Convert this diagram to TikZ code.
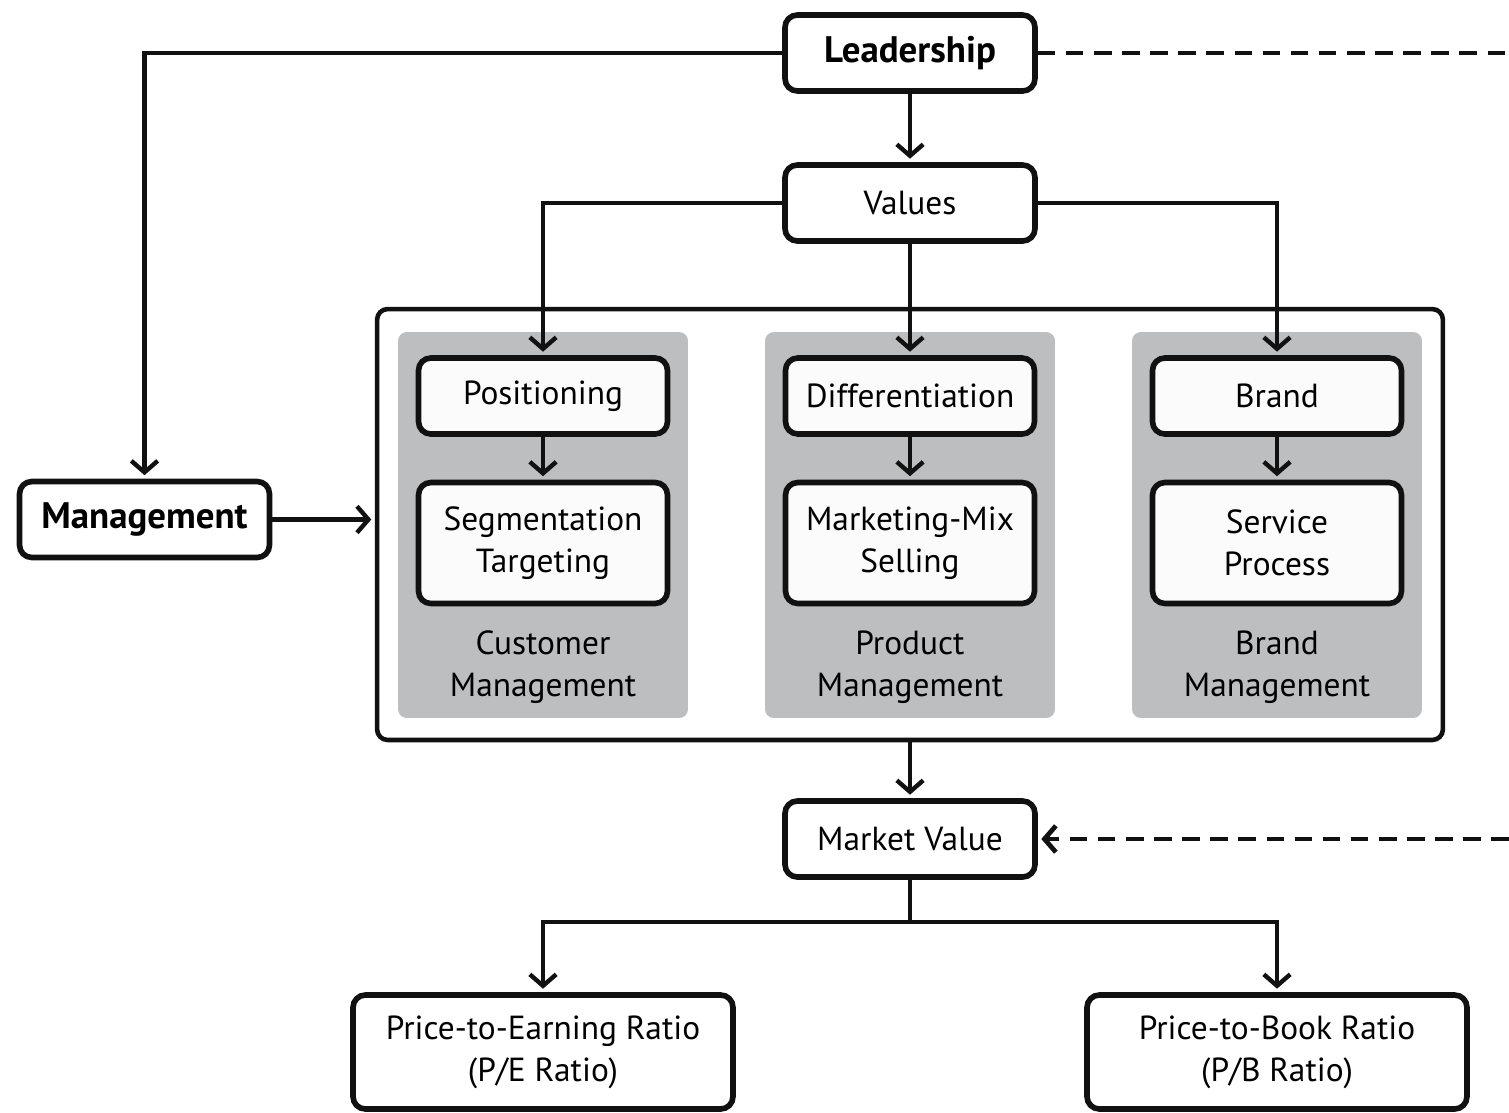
\documentclass[tikz,border=0pt]{standalone}
\usepackage{fontspec}
\setmainfont{PT Sans}
\usepackage{xcolor}
\definecolor{valueBlack}{HTML}{111111}
\definecolor{valueGray}{HTML}{BDBEC0}
\definecolor{valueWhite}{HTML}{FBFBFB}
\usepackage{tikz}
\usetikzlibrary{
  arrows.meta,
  positioning,
  calc
}
\tikzset{
  flowbox/.style={
    rectangle,draw=valueBlack,fill=white,
    line width=3.2pt,rounded corners=7pt,
    minimum width=5.0cm,minimum height=1.52cm,
    align=center,font=\fontsize{19}{24}\selectfont
  },
  headbox/.style={
    flowbox,font=\fontsize{21}{24}\selectfont\bfseries
  },
  innerbox/.style={
    flowbox,fill=valueWhite,minimum width=4.98cm
  },
  ratiobox/.style={
    flowbox,minimum width=7.6cm,minimum height=2.28cm
  },
  panel/.style={
    rectangle,fill=valueGray,rounded corners=5pt,
    minimum width=5.8cm,minimum height=7.72cm
  },
  frame/.style={
    rectangle,draw=valueBlack,line width=2.6pt,rounded corners=6pt,
    minimum width=21.32cm,minimum height=8.62cm
  },
  paneltext/.style={align=center,font=\fontsize{19}{24}\selectfont},
  arr/.style={-{Straight Barb[length=6.5pt,width=15pt]},line width=2.5pt,color=valueBlack,shorten >=2pt},
  darr/.style={arr,line width=2.7pt,dash pattern=on 10pt off 6pt},
  line/.style={-,line width=2.5pt,color=valueBlack}
}

\begin{document}
\begin{tikzpicture}[x=0.02cm,y=-0.02cm]
\useasboundingbox (0,0) rectangle (1509,1113);

%% ── Top: leadership and values ───────────────────────────
\node[headbox] (lead) at (910,53) {Leadership};
\node[flowbox] (val) at (910,203) {Values};
\node[headbox] (mgmt) at (144.5,519.5) {Management};

%% ── Management frame with three panels ───────────────────
\node[frame] (mktframe) at (910,524.5) {};

\node[panel] (pcust) at (543,525) {};
\node[panel] (pprod) at (910,525) {};
\node[panel] (pbrand) at (1277,525) {};

\node[innerbox] (pos) at (543,396) {Positioning};
\node[innerbox,minimum height=2.42cm] (seg) at (543,543) {Segmentation\\Targeting};
\node[paneltext] (tcust) at (543,667) {Customer\\Management};

\node[innerbox] (diff) at (910,396) {Differentiation};
\node[innerbox,minimum height=2.42cm] (mix) at (910,543) {Marketing-Mix\\Selling};
\node[paneltext] (tprod) at (910,667) {Product\\Management};

\node[innerbox] (brand) at (1277,396) {Brand};
\node[innerbox,minimum height=2.42cm] (serv) at (1277,543) {Service\\Process};
\node[paneltext] (tbrand) at (1277,667) {Brand\\Management};

%% ── Bottom: market value and ratios ──────────────────────
\node[flowbox] (mval) at (910,839) {Market Value};
\node[ratiobox] (pe) at (543,1052) {Price-to-Earning Ratio\\(P/E Ratio)};
\node[ratiobox] (pb) at (1277,1052) {Price-to-Book Ratio\\(P/B Ratio)};

\coordinate (leadEnd) at (1509,53);
\coordinate (mvalEnd) at (1509,839);
\coordinate (split) at (910,922);

%% ── Links ────────────────────────────────────────────────
\draw[arr] (lead.west) -| (mgmt.north);
\draw[darr,-,shorten >=0pt] (lead.east) -- (leadEnd);
\draw[arr] (lead) -- (val);
\draw[arr] (val.west) -| (pos.north);
\draw[arr] (val) -- (diff);
\draw[arr] (val.east) -| (brand.north);
\draw[arr] (pos) -- (seg);
\draw[arr] (diff) -- (mix);
\draw[arr] (brand) -- (serv);
\draw[arr] (mgmt.east) -- (mgmt.east -| mktframe.west);
\draw[arr] (mktframe.south) -- (mval.north);
\draw[darr] (mvalEnd) -- (mval.east);
\draw[line] (mval.south) -- (split);
\draw[arr] (split) -| (pe.north);
\draw[arr] (split) -| (pb.north);

\end{tikzpicture}
\end{document}
